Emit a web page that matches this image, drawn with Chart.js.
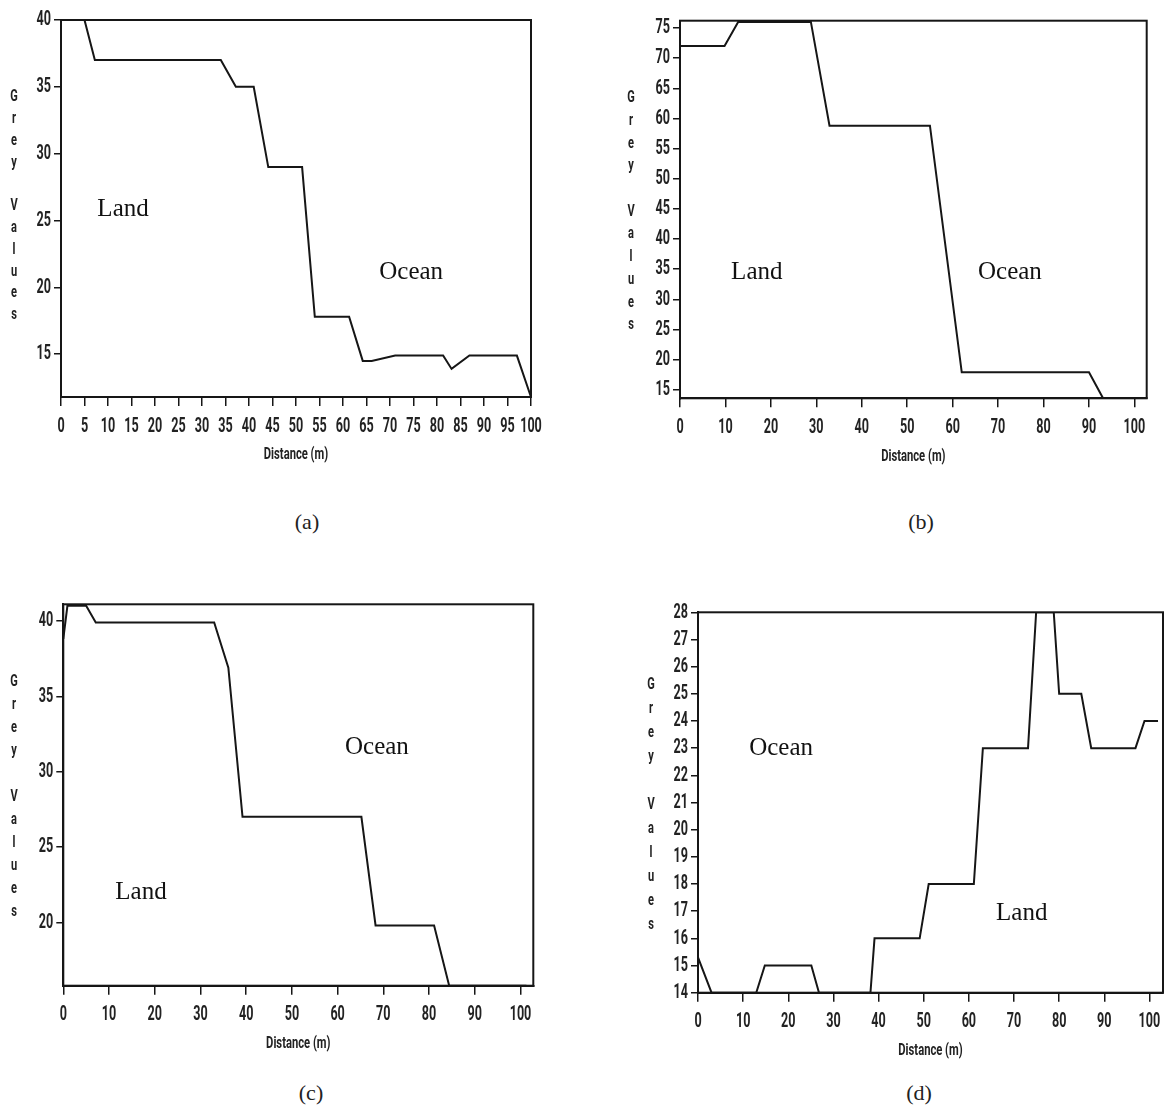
<!DOCTYPE html>
<html>
<head>
<meta charset="utf-8">
<script src="https://cdn.jsdelivr.net/npm/chart.js@4.4.1/dist/chart.umd.min.js"></script>
<style>
  body { margin: 0; background: #fff; width: 1165px; height: 1117px; position: relative; overflow: hidden; }
  .panel { position: absolute; }
  .cap { position: absolute; font: 22px 'Liberation Serif', 'Times New Roman', serif; color: #222; transform: translate(-50%, -50%); }
</style>
</head>
<body>
<div class="panel" style="left:0;top:0;width:570px;height:480px"><canvas id="chartA"></canvas></div>
<div class="panel" style="left:600px;top:0;width:565px;height:480px"><canvas id="chartB"></canvas></div>
<div class="panel" style="left:0;top:560px;width:570px;height:510px"><canvas id="chartC"></canvas></div>
<div class="panel" style="left:600px;top:560px;width:565px;height:510px"><canvas id="chartD"></canvas></div>
<div class="cap" style="left:307px;top:522px">(a)</div>
<div class="cap" style="left:921px;top:522px">(b)</div>
<div class="cap" style="left:311px;top:1093px">(c)</div>
<div class="cap" style="left:919px;top:1093px">(d)</div>
<script>
// profile (a)
const distA = [0, 5, 7.2, 34, 37.2, 41, 44.1, 51.3, 54, 61.3, 64.2, 66.1, 71.1, 81.3, 83.1, 86.9, 97, 100]
const greyA = [40, 40, 37, 37, 35, 35, 29, 29, 17.8, 17.8, 14.5, 14.5, 14.9, 14.9, 13.9, 14.9, 14.9, 11.8]
const xTicksA = [0, 5, 10, 15, 20, 25, 30, 35, 40, 45, 50, 55, 60, 65, 70, 75, 80, 85, 90, 95, 100]
const yTicksA = [15, 20, 25, 30, 35, 40]

// profile (b)
const distB = [0, 9.8, 12.8, 28.8, 32.9, 55, 62, 90, 93.1, 101.2]
const greyB = [72, 72, 76, 76, 58.8, 58.8, 17.9, 17.9, 13.6, 13.6]
const xTicksB = [0, 10, 20, 30, 40, 50, 60, 70, 80, 90, 100]
const yTicksB = [15, 20, 25, 30, 35, 40, 45, 50, 55, 60, 65, 70, 75]

// profile (c)
const distC = [0, 0.9, 5, 7.1, 33, 36.1, 39.2, 65.2, 68.3, 81.1, 84.4, 101.3]
const greyC = [38.8, 41, 41, 39.9, 39.9, 36.9, 27, 27, 19.8, 19.8, 15.8, 15.8]
const xTicksC = [0, 10, 20, 30, 40, 50, 60, 70, 80, 90, 100]
const yTicksC = [20, 25, 30, 35, 40]

// profile (d)
const distD = [0, 3, 12.9, 14.8, 25.1, 26.8, 38.2, 39.1, 49.1, 51.1, 61.1, 63.1, 73.1, 74.9, 78.8, 80, 84.9, 87.1, 96.9, 98.9, 101.9]
const greyD = [15.3, 14, 14, 15, 15, 14, 14, 16, 16, 18, 18, 23, 23, 28, 28, 25, 25, 23, 23, 24, 24]
const xTicksD = [0, 10, 20, 30, 40, 50, 60, 70, 80, 90, 100]
const yTicksD = [14, 15, 16, 17, 18, 19, 20, 21, 22, 23, 24, 25, 26, 27, 28]

const ink = '#161616'
const sans = "Roboto, 'DejaVu Sans', sans-serif"

// narrow text: the original labels are squeezed sideways
function squeezed(ctx, text, x, y, sx) {
  ctx.save()
  ctx.translate(x, y)
  ctx.scale(sx, 1)
  ctx.fillText(text, 0, 0)
  ctx.restore()
}

// box round the plot, tick labels, stacked axis title, Land / Ocean labels
const framePlugin = {
  id: 'frame',
  afterDraw(chart, args, opts) {
    const { ctx, chartArea: a, scales } = chart
    ctx.save()
    ctx.strokeStyle = ink
    ctx.lineWidth = 2
    ctx.strokeRect(a.left, a.top, a.right - a.left, a.bottom - a.top)

    ctx.fillStyle = '#222'
    ctx.textBaseline = 'middle'

    ctx.font = 'bold 21px ' + sans
    ctx.textAlign = 'center'
    for (const t of scales.x.ticks) {
      squeezed(ctx, String(t.value), scales.x.getPixelForValue(t.value), a.bottom + 29.5, 0.6)
    }
    ctx.textAlign = 'right'
    for (const t of scales.y.ticks) {
      squeezed(ctx, String(t.value), a.left - 10, scales.y.getPixelForValue(t.value), 0.6)
    }

    ctx.textAlign = 'center'
    ctx.font = 'bold 17px ' + sans
    squeezed(ctx, 'Distance (m)', (a.left + a.right) / 2, a.bottom + 58, 0.66)

    let y = opts.titleTop
    for (const ch of 'Grey Values') {
      if (ch !== ' ') squeezed(ctx, ch, opts.titleX, y, 0.65)
      y += opts.titleStep
    }

    ctx.font = "25px 'Liberation Serif', 'Times New Roman', serif"
    ctx.fillStyle = '#111'
    for (const lbl of opts.labels) {
      ctx.fillText(lbl.text, scales.x.getPixelForValue(lbl.x), scales.y.getPixelForValue(lbl.y))
    }
    ctx.restore()
  }
}

function makeChart(id, c) {
  return new Chart(document.getElementById(id), {
    type: 'line',
    data: {
      datasets: [{
        data: c.xs.map((x, i) => ({ x: x, y: c.ys[i] })),
        borderColor: ink,
        borderWidth: 2,
        pointRadius: 0,
        tension: 0,
        fill: false
      }]
    },
    options: {
      responsive: true,
      maintainAspectRatio: false,
      animation: false,
      layout: { padding: { left: 0, top: c.padTop, right: c.padRight, bottom: 0 } },
      plugins: {
        legend: { display: false },
        tooltip: { enabled: false },
        frame: { titleX: c.titleX, titleTop: c.titleTop, titleStep: c.titleStep, labels: c.labels }
      },
      scales: {
        x: {
          type: 'linear',
          min: c.xMin,
          max: c.xMax,
          afterBuildTicks: s => { s.ticks = c.xTicks.map(v => ({ value: v })) },
          afterFit: s => { s.height = c.xAxisH },
          grid: { drawOnChartArea: false, color: ink, lineWidth: 1.5, tickLength: 9 },
          border: { color: ink, width: 2 },
          ticks: { display: false }
        },
        y: {
          min: c.yMin,
          max: c.yMax,
          afterBuildTicks: s => { s.ticks = c.yTicks.map(v => ({ value: v })) },
          afterFit: s => { s.width = c.yAxisW },
          grid: { drawOnChartArea: false, color: ink, lineWidth: 1.5, tickLength: 7 },
          border: { color: ink, width: 2 },
          ticks: { display: false }
        }
      }
    },
    plugins: [framePlugin]
  })
}

makeChart('chartA', {
  xs: distA, ys: greyA, xTicks: xTicksA, yTicks: yTicksA,
  xMin: 0, xMax: 100, yMin: 11.8, yMax: 40,
  padTop: 20, padRight: 39, yAxisW: 61, xAxisH: 83,
  titleX: 14, titleTop: 97, titleStep: 21.8,
  labels: [{ text: 'Land', x: 13.2, y: 25.8 }, { text: 'Ocean', x: 74.5, y: 21.1 }]
})

makeChart('chartB', {
  xs: distB, ys: greyB, xTicks: xTicksB, yTicks: yTicksB,
  xMin: 0, xMax: 102.7, yMin: 13.6, yMax: 76.2,
  padTop: 20.7, padRight: 18.3, yAxisW: 80, xAxisH: 81.7,
  titleX: 31, titleTop: 98, titleStep: 22.7,
  labels: [{ text: 'Land', x: 16.9, y: 34.5 }, { text: 'Ocean', x: 72.6, y: 34.5 }]
})

makeChart('chartC', {
  xs: distC, ys: greyC, xTicks: xTicksC, yTicks: yTicksC,
  xMin: 0, xMax: 102.8, yMin: 15.8, yMax: 41.1,
  padTop: 44.3, padRight: 36.7, yAxisW: 63.3, xAxisH: 84.3,
  titleX: 14, titleTop: 122, titleStep: 23,
  labels: [{ text: 'Ocean', x: 68.6, y: 31.6 }, { text: 'Land', x: 17, y: 22 }]
})

makeChart('chartD', {
  xs: distD, ys: greyD, xTicks: xTicksD, yTicks: yTicksD,
  xMin: 0, xMax: 103, yMin: 14, yMax: 28,
  padTop: 52.3, padRight: 2, yAxisW: 98, xAxisH: 77.3,
  titleX: 51, titleTop: 125, titleStep: 24,
  labels: [{ text: 'Ocean', x: 18.4, y: 23 }, { text: 'Land', x: 71.7, y: 16.9 }]
})
</script>
</body>
</html>
